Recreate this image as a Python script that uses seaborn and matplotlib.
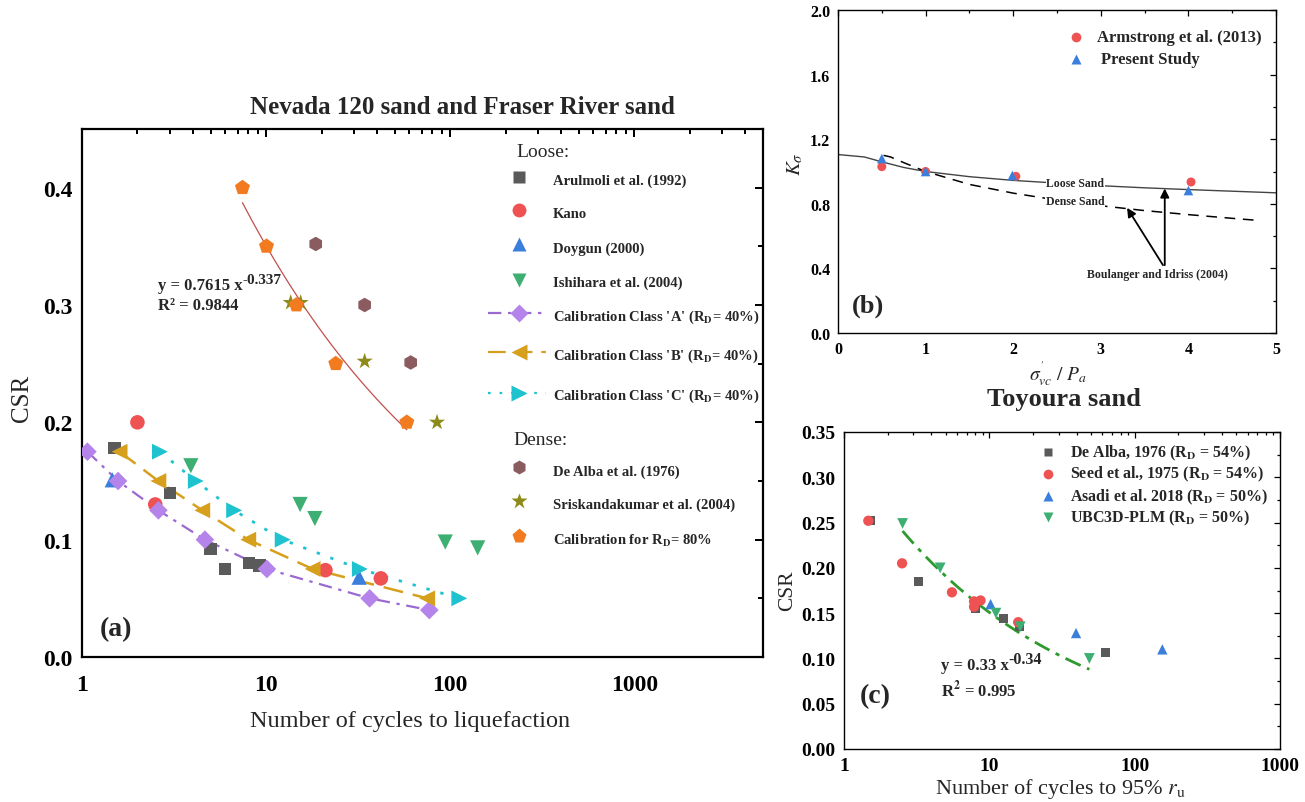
import numpy as np
import matplotlib
matplotlib.use("Agg")
import matplotlib.pyplot as plt
from matplotlib.ticker import FixedLocator, MultipleLocator, LogLocator, FuncFormatter, NullFormatter
import seaborn as sns

sns.set_style("white")
plt.rcParams["font.family"] = ["Liberation Serif", "DejaVu Serif"]
plt.rcParams["mathtext.fontset"] = "stix"

# ---------------- (a) Nevada 120 sand and Fraser River sand ----------------
arulmoli_n = [1.5, 3.0, 5.0, 6.0, 8.1, 9.2]
arulmoli_csr = [0.178, 0.140, 0.092, 0.075, 0.080, 0.078]
kano_n = [2.0, 2.5, 21.0, 42.0]
kano_csr = [0.200, 0.130, 0.074, 0.067]
doygun_n = [1.46, 32.0]
doygun_csr = [0.151, 0.068]
ishihara_n = [3.9, 15.3, 18.4, 94.0, 141.0]
ishihara_csr = [0.163, 0.130, 0.118, 0.098, 0.093]
class_a_n = [1.07, 1.57, 2.6, 4.65, 10.1, 36.5, 77.0]
class_a_csr = [0.175, 0.150, 0.125, 0.100, 0.075, 0.050, 0.040]
class_b_n = [1.6, 2.6, 4.5, 8.0, 17.9, 75.0]
class_b_csr = [0.175, 0.150, 0.125, 0.100, 0.075, 0.050]
class_c_n = [2.65, 4.15, 6.7, 12.3, 32.3, 112.0]
class_c_csr = [0.175, 0.150, 0.125, 0.100, 0.075, 0.050]
dealba_n = [18.6, 34.3, 61.0]
dealba_csr = [0.352, 0.300, 0.251]
srisk_n = [13.6, 15.4, 34.3, 84.8]
srisk_csr = [0.302, 0.302, 0.252, 0.200]
dense80_n = [7.44, 10.05, 14.6, 23.9, 58.1]
dense80_csr = [0.400, 0.350, 0.300, 0.250, 0.200]
fit_a_coef, fit_a_exp = 0.7615, -0.337

# ---------------- (b) K_sigma ----------------
armstrong_s = [0.5, 1.0, 2.03, 4.03]
armstrong_k = [1.03, 1.00, 0.97, 0.935]
present_s = [0.5, 1.0, 1.99, 4.0]
present_k = [1.08, 1.00, 0.975, 0.882]
loose_s = [0.0, 0.3, 0.5, 0.75, 1.0, 1.5, 2.0, 2.5, 3.0, 3.5, 4.0, 4.5, 5.0]
loose_k = [1.105, 1.09, 1.06, 1.025, 1.0, 0.968, 0.945, 0.928, 0.912, 0.899, 0.888, 0.878, 0.868]
dense_s = [0.52, 0.6, 0.75, 1.0, 1.5, 2.0, 2.5, 3.0, 3.5, 4.0, 4.5, 4.8]
dense_k = [1.10, 1.09, 1.055, 1.0, 0.92, 0.866, 0.823, 0.788, 0.758, 0.733, 0.71, 0.697]

# ---------------- (c) Toyoura sand ----------------
dealba76_n = [1.51, 3.27, 8.07, 12.5, 16.1, 62.6]
dealba76_csr = [0.252, 0.185, 0.155, 0.144, 0.135, 0.106]
seed_n = [1.47, 2.51, 5.53, 7.85, 7.85, 8.7, 15.8]
seed_csr = [0.252, 0.205, 0.173, 0.163, 0.157, 0.164, 0.140]
asadi_n = [10.2, 39.5, 155.0]
asadi_csr = [0.160, 0.128, 0.110]
ubc_n = [2.53, 4.59, 11.1, 16.3, 48.8]
ubc_csr = [0.249, 0.200, 0.150, 0.135, 0.100]
fit_c_coef, fit_c_exp = 0.33, -0.34

W, H = 1305, 803
fig = plt.figure(figsize=(W / 100, H / 100), dpi=100)
fig.patch.set_facecolor("white")


def px_axes(l, t, r, b):
    return fig.add_axes([l / W, 1 - b / H, (r - l) / W, (b - t) / H])


def pts(ax, x, y, marker, color, s, z=3):
    sns.scatterplot(x=x, y=y, ax=ax, marker=marker, color=color, s=s,
                    edgecolor="none", linewidth=0, zorder=z, legend=False)


def style_axes(ax, lw, major_len, minor_len, lab_size, xpad, ypad):
    for sp in ax.spines.values():
        sp.set_linewidth(lw)
        sp.set_color("black")
    ax.tick_params(which="both", direction="in", top=True, right=True,
                   width=lw * 0.9, colors="black", labelsize=lab_size)
    ax.tick_params(which="major", length=major_len)
    ax.tick_params(which="minor", length=minor_len)
    ax.tick_params(axis="x", which="major", pad=xpad)
    ax.tick_params(axis="y", which="major", pad=ypad)
    for lab in ax.get_xticklabels() + ax.get_yticklabels():
        lab.set_fontweight("bold")


def legend_row(ax, y, ty, label, marker, color, ms, xm, xt, fs,
               line=None, lcolor=None, x0=None, x1=None):
    if line is not None:
        ax.plot([x0, x1], [y, y], transform=ax.transAxes, color=lcolor,
                ls=line, lw=1.6, clip_on=False)
    ax.plot([xm], [y], marker=marker, color=color, ms=ms, mec="none",
            transform=ax.transAxes, clip_on=False, ls="none")
    ax.text(xt, ty, label, transform=ax.transAxes, va="center", ha="left",
            fontsize=fs, fontweight="bold")


def power_label(ax, x, y, base, expo, fs, efs):
    t = ax.text(x, y, base, transform=ax.transAxes, fontsize=fs,
                fontweight="bold", va="center", ha="left")
    ax.annotate(expo, xy=(1.0, 0.62), xycoords=t, fontsize=efs,
                fontweight="bold", va="baseline", ha="left")


# ======================= panel (a) =======================
axA = px_axes(82, 130, 763, 658)
axA.set_xscale("log")
axA.set_xlim(1, 5000)
axA.set_ylim(0, 0.45)

col_grey = "#5a5a5a"
col_red = "#ef5252"
col_blue = "#3b7fdc"
col_green = "#3daf72"
col_purple_m = "#b584ea"
col_purple_l = "#9a6ad0"
col_gold = "#d6a01c"
col_cyan = "#1fc3cf"
col_hex = "#8a5c60"
col_star = "#8c8a18"
col_orange = "#f27b20"

fx = np.geomspace(min(dense80_n), max(dense80_n), 100)
sns.lineplot(x=fx, y=fit_a_coef * fx ** fit_a_exp, ax=axA, color="#c0504d",
             lw=0.9, legend=False, zorder=2)

sns.lineplot(x=class_a_n, y=class_a_csr, ax=axA, color=col_purple_l, lw=1.6,
             linestyle=(0, (6, 3, 1.5, 3)), legend=False, zorder=2)
sns.lineplot(x=class_b_n, y=class_b_csr, ax=axA, color=col_gold, lw=1.8,
             linestyle=(0, (8, 4)), legend=False, zorder=2)
sns.lineplot(x=class_c_n, y=class_c_csr, ax=axA, color=col_cyan, lw=2.0,
             linestyle=(0, (1.2, 4)), legend=False, zorder=2)

pts(axA, arulmoli_n, arulmoli_csr, "s", col_grey, 80)
pts(axA, kano_n, kano_csr, "o", col_red, 110)
pts(axA, doygun_n, doygun_csr, "^", col_blue, 120)
pts(axA, ishihara_n, ishihara_csr, "v", col_green, 120)
pts(axA, class_a_n, class_a_csr, "D", col_purple_m, 90, z=4)
pts(axA, class_b_n, class_b_csr, "<", col_gold, 130, z=4)
pts(axA, class_c_n, class_c_csr, ">", col_cyan, 130, z=4)
pts(axA, dealba_n, dealba_csr, "h", col_hex, 110)
pts(axA, srisk_n, srisk_csr, "*", col_star, 150)
pts(axA, dense80_n, dense80_csr, "p", col_orange, 130)

axA.xaxis.set_major_locator(FixedLocator([1, 10, 100, 1000]))
axA.xaxis.set_minor_locator(LogLocator(base=10, subs=np.arange(2, 10)))
axA.xaxis.set_minor_formatter(NullFormatter())
axA.xaxis.set_major_formatter(FuncFormatter(lambda v, p: f"{v:g}"))
axA.yaxis.set_major_locator(MultipleLocator(0.1))
axA.yaxis.set_minor_locator(MultipleLocator(0.05))
axA.yaxis.set_major_formatter(FuncFormatter(lambda v, p: f"{v:.1f}"))
axA.set_xlabel("")
axA.set_ylabel("")
style_axes(axA, 1.6, 6, 3.5, 17, 12, 7)

power_label(axA, 0.1116, 0.7045, "y = 0.7615 x", "-0.337", 12, 11)
axA.text(0.1116, 0.6667, "R² = 0.9844", transform=axA.transAxes,
         fontsize=12, fontweight="bold", va="center")
axA.text(0.0264, 0.053, "(a)", transform=axA.transAxes, fontsize=20,
         fontweight="bold", va="center")


def ay(py):
    return (658 - py) / 528


xm_a, xt_a, x0_a, x1_a = 0.6417, 0.6916, 0.596, 0.681
axA.text(0.6417 - 0.004, ay(153), "Loose:", transform=axA.transAxes,
         fontsize=14, va="center", ha="left")
axA.text(0.637 - 0.004, ay(441), "Dense:", transform=axA.transAxes,
         fontsize=14, va="center", ha="left")
rows_a = [
    (178, 181, "Arulmoli et al. (1992)", "s", col_grey, 9, None, None),
    (211, 215, "Kano", "o", col_red, 10, None, None),
    (245, 249, "Doygun (2000)", "^", col_blue, 10.5, None, None),
    (281, 283, "Ishihara et al. (2004)", "v", col_green, 10.5, None, None),
    (314, 317, r"Calibration Class 'A' (R$_{\mathbf{D}}$= 40%)", "D", col_purple_m, 9,
     (0, (6, 3, 1.5, 3)), col_purple_l),
    (353, 356, r"Calibration Class 'B' (R$_{\mathbf{D}}$= 40%)", "<", col_gold, 11,
     (0, (8, 4)), col_gold),
    (394, 396, r"Calibration Class 'C' (R$_{\mathbf{D}}$= 40%)", ">", col_cyan, 11,
     (0, (1.2, 4)), col_cyan),
    (468, 472, "De Alba et al. (1976)", "h", col_hex, 10, None, None),
    (502, 505, "Sriskandakumar et al. (2004)", "*", col_star, 12, None, None),
    (537, 541, r"Calibration for R$_{\mathbf{D}}$= 80%", "p", col_orange, 11, None, None),
]
for my, ty, lab, mk, c, ms, ls, lc in rows_a:
    legend_row(axA, ay(my), ay(ty), lab, mk, c, ms, xm_a, xt_a, 10.5,
               line=ls, lcolor=lc, x0=x0_a, x1=x1_a)

fig.text(462 / W, 1 - 108 / H, "Nevada 120 sand and Fraser River sand",
         ha="center", va="center", fontsize=18, fontweight="bold")
fig.text(410 / W, 1 - 722 / H, "Number of cycles to liquefaction",
         ha="center", va="center", fontsize=17.5)
fig.text(22 / W, 1 - 398 / H, "CSR", ha="center", va="center",
         fontsize=18, rotation=90)

# ======================= panel (b) =======================
axB = px_axes(838, 11, 1276, 334)
axB.set_xlim(0, 5)
axB.set_ylim(0, 2.0)
sns.lineplot(x=loose_s, y=loose_k, ax=axB, color="#444444", lw=1.0,
             legend=False, zorder=2)
sns.lineplot(x=dense_s, y=dense_k, ax=axB, color="black", lw=1.1,
             linestyle=(0, (7, 5)), legend=False, zorder=2)
pts(axB, armstrong_s, armstrong_k, "o", col_red, 42)
pts(axB, present_s, present_k, "^", col_blue, 48)

axB.text(2.71, 0.93, "Loose Sand", fontsize=8.5, fontweight="bold", ha="center",
         va="center", bbox=dict(facecolor="white", edgecolor="none", pad=0.5), zorder=3)
axB.text(2.71, 0.82, "Dense Sand", fontsize=8.5, fontweight="bold", ha="center",
         va="center", bbox=dict(facecolor="white", edgecolor="none", pad=0.5), zorder=3)
axB.annotate("", xy=(3.73, 0.895), xytext=(3.73, 0.42),
             arrowprops=dict(arrowstyle="-|>", color="black", lw=1.3,
                             mutation_scale=13, shrinkA=0, shrinkB=0))
axB.annotate("", xy=(3.30, 0.775), xytext=(3.71, 0.42),
             arrowprops=dict(arrowstyle="-|>", color="black", lw=1.3,
                             mutation_scale=13, shrinkA=0, shrinkB=0))
axB.text(3.65, 0.365, "Boulanger and Idriss (2004)", fontsize=8.5,
         fontweight="bold", ha="center", va="center")
axB.text(0.032, 0.087, "(b)", transform=axB.transAxes, fontsize=19,
         fontweight="bold", va="center")

axB.xaxis.set_major_locator(MultipleLocator(1))
axB.xaxis.set_minor_locator(MultipleLocator(0.5))
axB.yaxis.set_major_locator(MultipleLocator(0.4))
axB.yaxis.set_minor_locator(MultipleLocator(0.2))
axB.yaxis.set_major_formatter(FuncFormatter(lambda v, p: f"{v:.1f}"))
axB.xaxis.set_major_formatter(FuncFormatter(lambda v, p: f"{v:.0f}"))
axB.set_xlabel("")
axB.set_ylabel("")
style_axes(axB, 1.0, 4, 2.5, 11.5, 6, 5.5)

legend_row(axB, 0.917, 0.917, "Armstrong et al. (2013)", "o", col_red, 7,
           0.5425, 0.592, 12)
legend_row(axB, 0.8495, 0.8495, "Present Study", "^", col_blue, 7.5,
           0.5425, 0.601, 12)

fig.text(1058 / W, 1 - 374 / H, r"$\sigma^{'}_{vc}\ /\ P_a$", ha="center",
         va="center", fontsize=14)
fig.text(795 / W, 1 - 164 / H, r"$K_\sigma$", ha="center", va="center",
         fontsize=15, rotation=90)

# ======================= panel (c) =======================
axC = px_axes(844, 433, 1280, 750)
axC.set_xscale("log")
axC.set_xlim(1, 1000)
axC.set_ylim(0, 0.35)

fxc = np.geomspace(min(ubc_n), max(ubc_n), 100)
sns.lineplot(x=fxc, y=fit_c_coef * fxc ** fit_c_exp, ax=axC, color="#2e9a2e",
             lw=2.0, linestyle=(0, (6, 2.5, 1.5, 2.5)), legend=False, zorder=2)
pts(axC, dealba76_n, dealba76_csr, "s", col_grey, 42)
pts(axC, seed_n, seed_csr, "o", col_red, 55)
pts(axC, asadi_n, asadi_csr, "^", col_blue, 55)
pts(axC, ubc_n, ubc_csr, "v", col_green, 60)

axC.xaxis.set_major_locator(FixedLocator([1, 10, 100, 1000]))
axC.xaxis.set_minor_locator(LogLocator(base=10, subs=np.arange(2, 10)))
axC.xaxis.set_minor_formatter(NullFormatter())
axC.xaxis.set_major_formatter(FuncFormatter(lambda v, p: f"{v:g}"))
axC.yaxis.set_major_locator(MultipleLocator(0.05))
axC.yaxis.set_minor_locator(MultipleLocator(0.025))
axC.yaxis.set_major_formatter(FuncFormatter(lambda v, p: f"{v:.2f}"))
axC.set_xlabel("")
axC.set_ylabel("")
style_axes(axC, 1.0, 4, 2.5, 14, 6, 6)

power_label(axC, 0.222, 0.265, "y = 0.33 x", "-0.34", 12, 11.5)
axC.text(0.222, 0.189, r"R$^{\mathbf{2}}$ = 0.995", transform=axC.transAxes,
         fontsize=12, fontweight="bold", va="center")
axC.text(0.037, 0.167, "(c)", transform=axC.transAxes, fontsize=20,
         fontweight="bold", va="center")

rows_c = [
    (0.937, r"De Alba, 1976 (R$_{\mathbf{D}}$ = 54%)", "s", col_grey, 6),
    (0.8685, r"Seed et al., 1975 (R$_{\mathbf{D}}$ = 54%)", "o", col_red, 7),
    (0.7975, r"Asadi et al. 2018 (R$_{\mathbf{D}}$ = 50%)", "^", col_blue, 7.5),
    (0.731, r"UBC3D-PLM (R$_{\mathbf{D}}$ = 50%)", "v", col_green, 7.5),
]
for y, lab, mk, c, ms in rows_c:
    legend_row(axC, y, y, lab, mk, c, ms, 0.4674, 0.5174, 11.5)

fig.text(1064 / W, 1 - 400 / H, "Toyoura sand", ha="center", va="center",
         fontsize=19, fontweight="bold")
fig.text(1061 / W, 1 - 789 / H, r"Number of cycles to 95% $r_\mathrm{u}$",
         ha="center", va="center", fontsize=16)
fig.text(788 / W, 1 - 591 / H, "CSR", ha="center", va="center",
         fontsize=15.5, rotation=90)

fig.savefig("out.png", dpi=100, facecolor="white")
